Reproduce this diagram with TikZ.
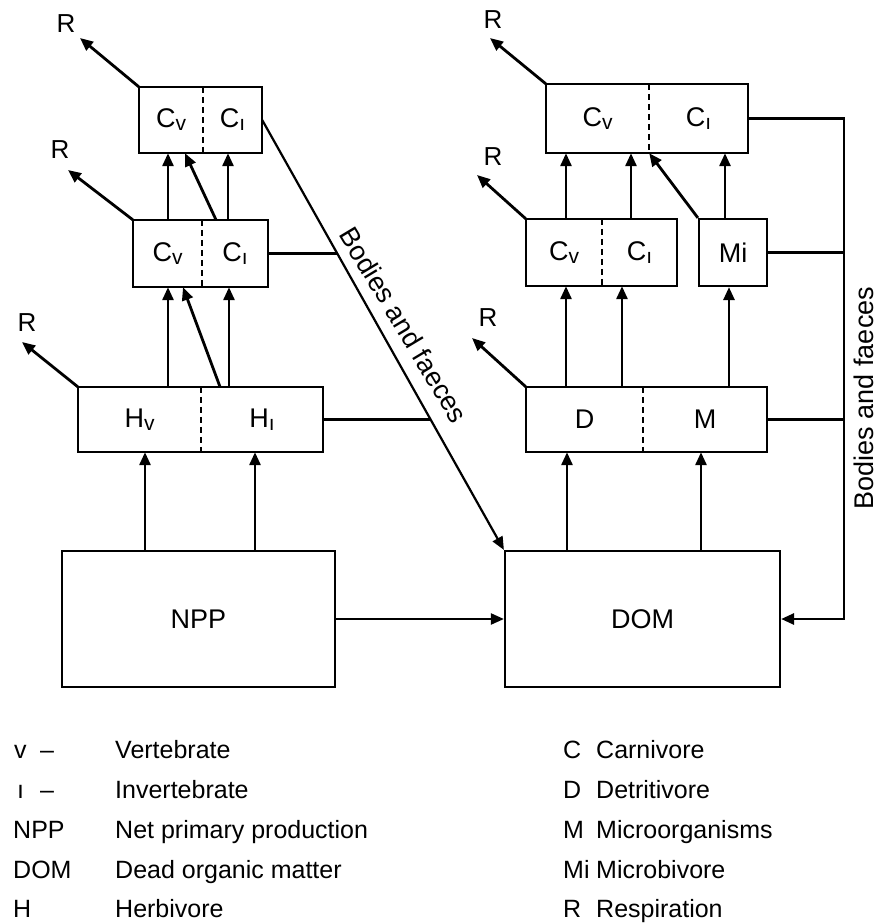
\documentclass[tikz,border=0pt]{standalone}
\usepackage{fontspec}
\setmainfont{Liberation Sans}
\usetikzlibrary{arrows.meta}
\newcommand{\lsub}[1]{\raisebox{-3pt}{\fontsize{21}{21}\selectfont #1}}
\begin{document}
\begin{tikzpicture}[x=1pt,y=-1pt,
  lw/.style={line width=2.8pt},
  arr/.style={line width=2.8pt,-{Triangle[length=13pt,width=11pt]}},
  thinarr/.style={line width=2.2pt,-{Triangle[length=13pt,width=11pt]}},
  cell/.style={inner sep=0pt, font=\fontsize{27}{30}\selectfont},
  frame/.style={draw, line width=2.2pt},
  divider/.style={line width=1.8pt, dash pattern=on 6pt off 4pt},
  rlab/.style={font=\fontsize{26}{28}\selectfont, inner sep=0pt},
  leg/.style={font=\fontsize{25}{28}\selectfont, anchor=base west, inner sep=0pt},
  side/.style={font=\fontsize{27}{30}\selectfont, inner sep=0pt}
]
\useasboundingbox (0,0) rectangle (879,924);

% ---------- left column ----------
\node[cell, minimum width=64pt, minimum height=66pt] (LTv) at (171,120) {C\lsub{v}};
\node[cell, minimum width=59pt, minimum height=66pt] (LTi) at (232.5,120) {C\lsub{ı}};
\draw[frame] (LTv.north west) rectangle (LTi.south east);
\draw[divider] (LTv.north east) -- (LTv.south east);

\node[cell, minimum width=69pt, minimum height=67pt] (LMv) at (167.5,253.5) {C\lsub{v}};
\node[cell, minimum width=66pt, minimum height=67pt] (LMi) at (235,253.5) {C\lsub{ı}};
\draw[frame] (LMv.north west) rectangle (LMi.south east);
\draw[divider] (LMv.north east) -- (LMv.south east);

\node[cell, minimum width=123pt, minimum height=65pt] (LHv) at (139.5,419.5) {H\lsub{v}};
\node[cell, minimum width=122pt, minimum height=65pt] (LHi) at (262,419.5) {H\lsub{ı}};
\draw[frame] (LHv.north west) rectangle (LHi.south east);
\draw[divider] (LHv.north east) -- (LHv.south east);

\node[cell, frame, minimum width=273pt, minimum height=136pt] (NPP) at (198.5,619) {NPP};

% ---------- right column ----------
\node[cell, minimum width=103pt, minimum height=69pt] (RTv) at (597.5,118.5) {C\lsub{v}};
\node[cell, minimum width=99pt, minimum height=69pt] (RTi) at (698.5,118.5) {C\lsub{ı}};
\draw[frame] (RTv.north west) rectangle (RTi.south east);
\draw[divider] (RTv.north east) -- (RTv.south east);

\node[cell, minimum width=76pt, minimum height=67pt] (RMv) at (564,252.5) {C\lsub{v}};
\node[cell, minimum width=75pt, minimum height=67pt] (RMi) at (639.5,252.5) {C\lsub{ı}};
\draw[frame] (RMv.north west) rectangle (RMi.south east);
\draw[divider] (RMv.north east) -- (RMv.south east);

\node[cell, frame, minimum width=68pt, minimum height=67pt] (Mi) at (733,252.5) {Mi};

\node[cell, minimum width=117pt, minimum height=65pt] (RD) at (584.5,419.5) {D};
\node[cell, minimum width=124pt, minimum height=65pt] (RM) at (705,419.5) {M};
\draw[frame] (RD.north west) rectangle (RM.south east);
\draw[divider] (RD.north east) -- (RD.south east);

\node[cell, frame, minimum width=275pt, minimum height=136pt] (DOM) at (642.5,619) {DOM};

% ---------- R labels ----------
\node[rlab] (R1) at (66,24) {R};
\node[rlab] (R2) at (60,150) {R};
\node[rlab] (R3) at (27,323) {R};
\node[rlab] (R4) at (493,20) {R};
\node[rlab] (R5) at (493,157) {R};
\node[rlab] (R6) at (488,318) {R};
\draw[arr] (LTv.north west) -- (80,38);
\draw[arr] (LMv.north west) -- (68,170);
\draw[arr] (LHv.north west) -- (22,342);
\draw[arr] (RTv.north west) -- (490,38);
\draw[arr] (RMv.north west) -- (477,175);
\draw[arr] (RD.north west) -- (472,338);

% ---------- left flows ----------
\draw[arr] (168,0 |- LHv.north) -- (168,0 |- LMv.south);
\draw[arr] (220,0 |- LHi.north) -- (183,0 |- LMv.south);
\draw[arr] (229,0 |- LHi.north) -- (229,0 |- LMi.south);
\draw[arr] (168,0 |- LMv.north) -- (168,0 |- LTv.south);
\draw[arr] (216,0 |- LMi.north) -- (185,0 |- LTv.south);
\draw[arr] (228,0 |- LMi.north) -- (228,0 |- LTi.south);
\draw[arr] (145,0 |- NPP.north) -- (145,0 |- LHv.south);
\draw[arr] (255,0 |- NPP.north) -- (255,0 |- LHi.south);
\draw[thinarr] (NPP.east) -- (DOM.west);

% ---------- bodies and faeces (left) ----------
\draw[thinarr] (LTi.east) -- (DOM.north west);
\draw[lw] (LMi.east) -- (intersection of LTi.east--DOM.north west and LMi.east--LMi.west);
\draw[lw] (LHi.east) -- (intersection of LTi.east--DOM.north west and LHi.east--LHi.west);
\node[side, rotate=-59] at (404,325) {Bodies and faeces};

% ---------- right flows ----------
\draw[arr] (566,0 |- RD.north) -- (566,0 |- RMv.south);
\draw[arr] (622,0 |- RD.north) -- (622,0 |- RMi.south);
\draw[arr] (729,0 |- RM.north) -- (729,0 |- Mi.south);
\draw[arr] (566,0 |- RMv.north) -- (566,0 |- RTv.south);
\draw[arr] (631,0 |- RMi.north) -- (631,0 |- RTv.south);
\draw[arr] (Mi.north west) -- (RTv.south east);
\draw[arr] (725,0 |- Mi.north) -- (725,0 |- RTi.south);
\draw[arr] (567,0 |- DOM.north) -- (567,0 |- RD.south);
\draw[arr] (701,0 |- DOM.north) -- (701,0 |- RM.south);

% ---------- bodies and faeces (right) ----------
\coordinate (fb) at (844,0);
\draw[arr] (RTi.east) -- (RTi.east -| fb) |- (DOM.east);
\draw[lw] (Mi.east) -- (Mi.east -| fb);
\draw[lw] (RM.east) -- (RM.east -| fb);
\node[side, rotate=90] at (864,398) {Bodies and faeces};

% ---------- legend ----------
\node[leg] (k1) at (14,758) {v};
\node[leg] (k1d) at (40,758) {--};
\node[leg] (k1t) at (115,758) {Vertebrate};
\node[leg] (k2) at (17,798) {ı};
\node[leg] (k2d) at (40,798) {--};
\node[leg] (k2t) at (115,798) {Invertebrate};
\node[leg] (k3) at (13,838) {NPP};
\node[leg] (k3t) at (115,838) {Net primary production};
\node[leg] (k4) at (13,878) {DOM};
\node[leg] (k4t) at (115,878) {Dead organic matter};
\node[leg] (k5) at (13,917) {H};
\node[leg] (k5t) at (115,917) {Herbivore};

\node[leg] (m1) at (563,758) {C};
\node[leg] (m1t) at (596,758) {Carnivore};
\node[leg] (m2) at (563,798) {D};
\node[leg] (m2t) at (596,798) {Detritivore};
\node[leg] (m3) at (563,838) {M};
\node[leg] (m3t) at (596,838) {Microorganisms};
\node[leg] (m4) at (563,878) {Mi};
\node[leg] (m4t) at (596,878) {Microbivore};
\node[leg] (m5) at (563,917) {R};
\node[leg] (m5t) at (596,917) {Respiration};
\end{tikzpicture}
\end{document}
